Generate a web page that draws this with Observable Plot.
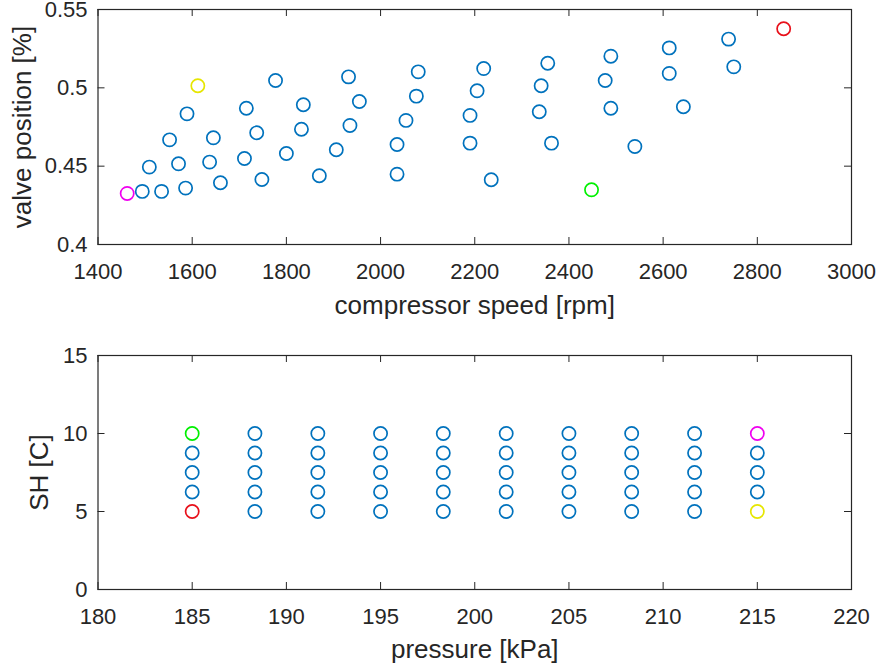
<!DOCTYPE html>
<html>
<head>
<meta charset="utf-8">
<script src="https://cdn.jsdelivr.net/npm/d3@7"></script>
<script src="https://cdn.jsdelivr.net/npm/@observablehq/plot@0.6"></script>
<style>
  html, body { margin: 0; padding: 0; background: #ffffff; }
  #chart svg { display: block; }
</style>
</head>
<body>
<div id="chart"></div>
<script>
// ---- Top subplot data: compressor speed vs valve position ----
const topSpeed = [1462, 1494, 1535, 1509, 1552, 1571, 1586, 1589, 1612, 1645, 1637, 1660, 1715, 1737, 1711, 1748, 1777, 1836, 1832, 1800, 1870, 1932, 1955, 1935, 1906, 2080, 2076, 2054, 2035, 2035, 2219, 2205, 2190, 2190, 2235, 2355, 2341, 2337, 2363, 2448, 2489, 2477, 2489, 2540, 2613, 2613, 2643, 2739, 2750, 2856];
const topValve = [0.4326, 0.4339, 0.4339, 0.4494, 0.4668, 0.4515, 0.4360, 0.4834, 0.5013, 0.4681, 0.4526, 0.4394, 0.4870, 0.4713, 0.4549, 0.4415, 0.5047, 0.4892, 0.4736, 0.4581, 0.4439, 0.5070, 0.4913, 0.4760, 0.4605, 0.5102, 0.4947, 0.4792, 0.4638, 0.4449, 0.5123, 0.4981, 0.4824, 0.4647, 0.4413, 0.5157, 0.5013, 0.4847, 0.4647, 0.4349, 0.5202, 0.5047, 0.4870, 0.4626, 0.5255, 0.5092, 0.4879, 0.5311, 0.5134, 0.5377];
// highlighted points (index -> corner group)
const topHighlightIndex = [0, 8, 39, 49];
const topHighlightGroup = ["215/10", "215/5", "185/10", "185/5"];

// ---- Bottom subplot data: pressure vs SH grid ----
const pressureLevels = [185, 188.33, 191.67, 195, 198.33, 201.67, 205, 208.33, 211.67, 215];
const shLevels = [5, 6.25, 7.5, 8.75, 10];
const cornerPressure = [185, 185, 215, 215];
const cornerSH = [5, 10, 10, 5];
const cornerGroup = ["185/5", "185/10", "215/10", "215/5"];

// ---- Axis ticks and labels ----
const topXTicks = [1400, 1600, 1800, 2000, 2200, 2400, 2600, 2800, 3000];
const topYTicks = [0.4, 0.45, 0.5, 0.55];
const botXTicks = [180, 185, 190, 195, 200, 205, 210, 215, 220];
const botYTicks = [0, 5, 10, 15];
const topXLabel = "compressor speed [rpm]";
const topYLabel = "valve position [%]";
const botXLabel = "pressure [kPa]";
const botYLabel = "SH [C]";

const groupDomain = ["normal", "185/5", "185/10", "215/10", "215/5"];
const groupRange = ["#0072BD", "#E8101A", "#00F000", "#F000F0", "#E6E600"];

const ink = "#262626";
const font = "'Liberation Sans', Arial, Helvetica, sans-serif";

const topData = topSpeed.map((s, i) => {
  const k = topHighlightIndex.indexOf(i);
  return {speed: s, valve: topValve[i], group: k >= 0 ? topHighlightGroup[k] : "normal"};
});
const botData = [];
for (const p of pressureLevels) {
  for (const sh of shLevels) {
    let g = "normal";
    for (let k = 0; k < cornerGroup.length; k++) {
      if (cornerPressure[k] === p && cornerSH[k] === sh) g = cornerGroup[k];
    }
    botData.push({pressure: p, sh, group: g});
  }
}
topData.sort((a, b) => (a.group !== "normal") - (b.group !== "normal"));
botData.sort((a, b) => (a.group !== "normal") - (b.group !== "normal"));

const W = 876, ML = 97.5, MR = 25, innerW = W - ML - MR, TL = 7;

function panel({data, xKey, yKey, xDomain, yDomain, xTicks, yTicks, xLabel, yLabel, height, marginTop, marginBottom, xLabelDy, yLabelDx}) {
  const innerH = height - marginTop - marginBottom;
  return Plot.plot({
    width: W, height,
    marginLeft: ML, marginRight: MR, marginTop, marginBottom,
    x: {domain: xDomain},
    y: {domain: yDomain},
    color: {domain: groupDomain, range: groupRange},
    style: {fontFamily: font, fontSize: "22px", color: ink, background: "#ffffff"},
    marks: [
      Plot.tickX(xTicks, {x: d => d, stroke: ink, insetTop: innerH - TL}),
      Plot.tickX(xTicks, {x: d => d, stroke: ink, insetBottom: innerH - TL}),
      Plot.tickY(yTicks, {y: d => d, stroke: ink, insetRight: innerW - TL}),
      Plot.tickY(yTicks, {y: d => d, stroke: ink, insetLeft: innerW - TL}),
      Plot.frame({stroke: ink, strokeWidth: 1.2}),
      Plot.axisX({ticks: xTicks, tickSize: 0, tickPadding: 18.5, label: null, tickFormat: d => String(d), fill: ink}),
      Plot.axisY({ticks: yTicks, tickSize: 0, tickPadding: 10.5, label: null, tickFormat: d => String(d), fill: ink}),
      Plot.dot(data, {x: xKey, y: yKey, stroke: "group", r: 6.6, strokeWidth: 1.7, fill: "none"}),
      Plot.text([xLabel], {frameAnchor: "bottom", dy: xLabelDy, fontSize: 26, fill: ink, textAnchor: "middle", lineAnchor: "middle"}),
      Plot.text([yLabel], {frameAnchor: "left", dx: yLabelDx, rotate: -90, fontSize: 26, fill: ink, textAnchor: "middle", lineAnchor: "middle"})
    ]
  });
}

const topPanel = panel({
  data: topData, xKey: "speed", yKey: "valve",
  xDomain: [1400, 3000], yDomain: [0.4, 0.55],
  xTicks: topXTicks, yTicks: topYTicks,
  xLabel: topXLabel, yLabel: topYLabel,
  height: 335, marginTop: 9, marginBottom: 91,
  xLabelDy: 61, yLabelDx: -75.5
});
const bottomPanel = panel({
  data: botData, xKey: "pressure", yKey: "sh",
  xDomain: [180, 220], yDomain: [0, 15],
  xTicks: botXTicks, yTicks: botYTicks,
  xLabel: botXLabel, yLabel: botYLabel,
  height: 335, marginTop: 20, marginBottom: 81,
  xLabelDy: 60, yLabelDx: -58
});
const chartEl = document.getElementById("chart");
chartEl.appendChild(topPanel);
chartEl.appendChild(bottomPanel);
</script>
</body>
</html>
